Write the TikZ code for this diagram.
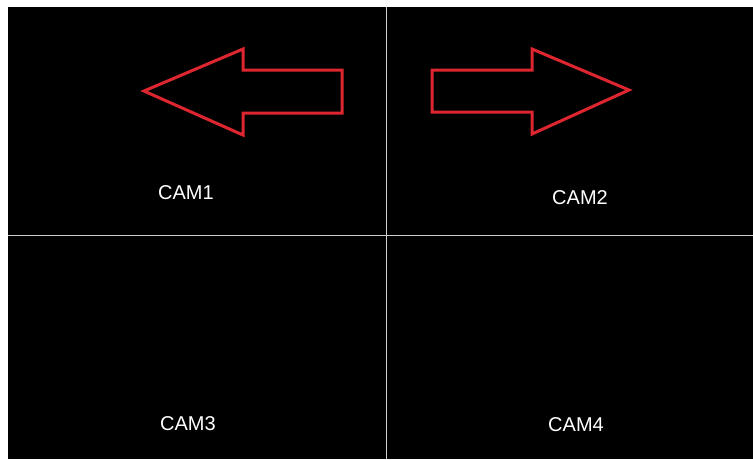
\documentclass[tikz,border=0pt]{standalone}
\usepackage{fontspec}
\setmainfont{Liberation Sans}
\usepackage{tikz}
\usetikzlibrary{calc}
\definecolor{ArrowRed}{RGB}{222,38,48}
\definecolor{GridGray}{RGB}{205,205,205}
\tikzstyle{CamLabel}=[text=white, font=\fontsize{20}{24}\selectfont, inner sep=0pt]
\tikzstyle{Divider}=[draw=GridGray, line width=1.6pt]
\tikzstyle{ArrowOutline}=[draw=ArrowRed, line width=3pt, line join=miter]

\begin{document}
\begin{tikzpicture}[x=1pt, y=-1pt]
\useasboundingbox (0,0) rectangle (753,459);
\fill[white] (0,0) rectangle (753,459);
\fill[black] (8,7) rectangle (753,459);

% split lines
\coordinate (VTop) at (386.5,7);
\coordinate (VBot) at (386.5,459);
\coordinate (HLeft) at (8,235.5);
\coordinate (HRight) at (753,235.5);
\draw[Divider] (VTop) -- (VBot);
\draw[Divider] (HLeft) -- (HRight);

% arrows
\draw[ArrowOutline] (144,91) -- (243,49) -- (243,70) -- (342,70) -- (342,113) -- (243,113) -- (243,135) -- cycle;
\draw[ArrowOutline] (629,90) -- (532,49) -- (532,70) -- (432,70) -- (432,112) -- (532,112) -- (532,134) -- cycle;

\node[CamLabel](CAM1) at (186,193) {CAM1};
\node[CamLabel](CAM2) at (580,198) {CAM2};
\node[CamLabel](CAM3) at (188,424) {CAM3};
\node[CamLabel](CAM4) at (576,425) {CAM4};
\end{tikzpicture}
\end{document}
